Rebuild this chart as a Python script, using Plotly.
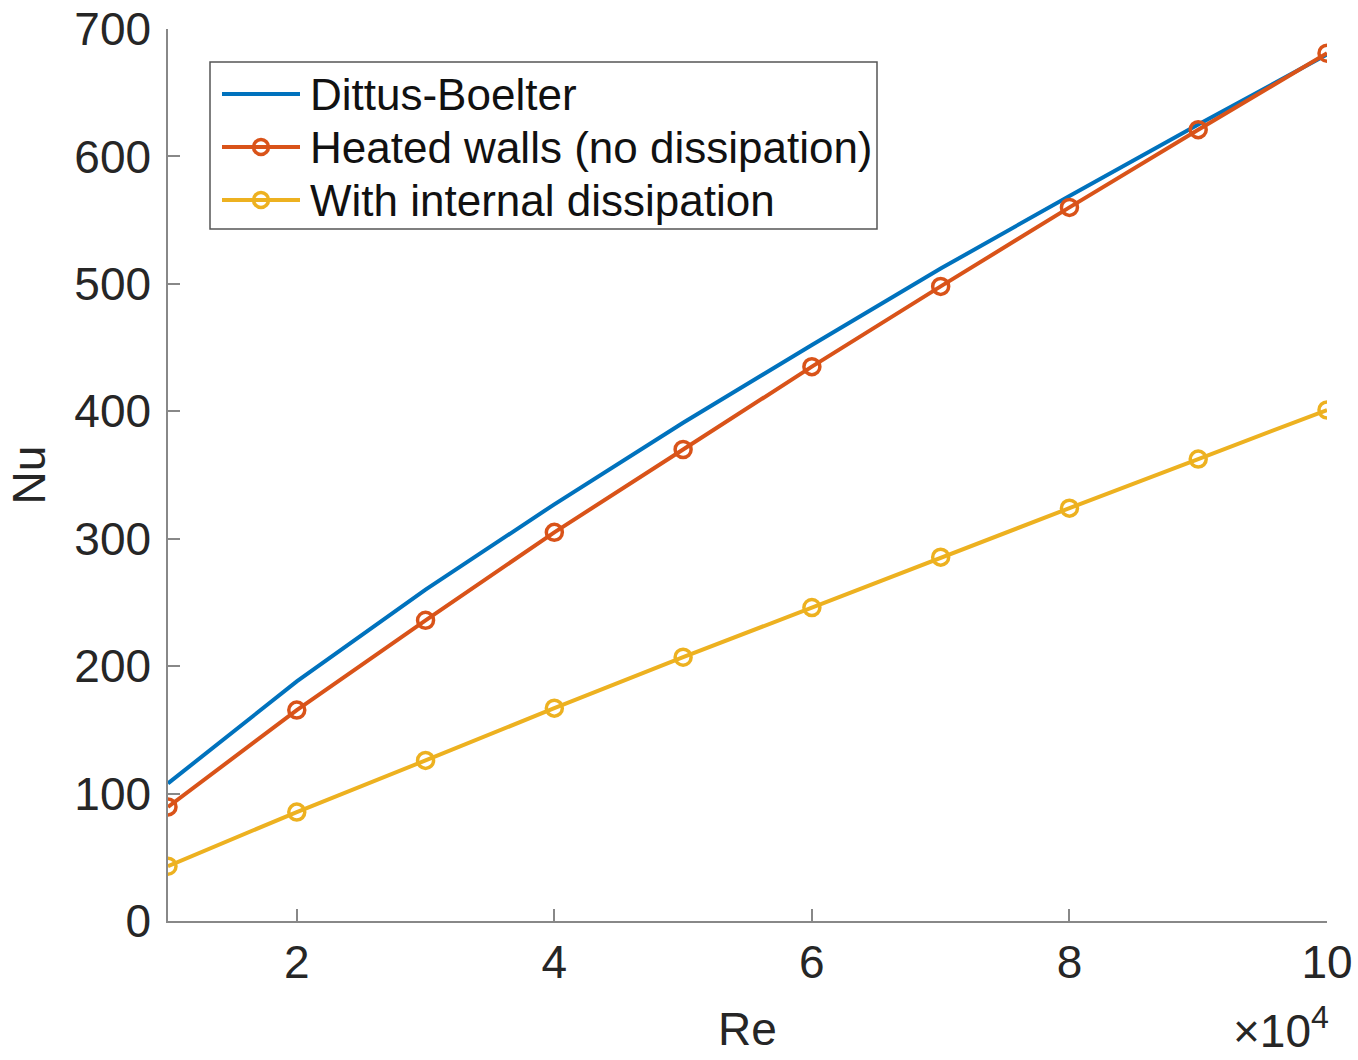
import plotly.graph_objects as go

re_vals = [10000, 20000, 30000, 40000, 50000, 60000, 70000, 80000, 90000, 100000]
nu_dittus = [108, 188, 260, 327, 391, 452, 512, 569, 625, 680]
nu_heated = [89.5, 165.5, 236, 305, 370, 435, 498, 560, 621, 681]
nu_dissip = [43, 85.5, 126, 167, 207, 246, 285.5, 324, 362.5, 401]

series_names = ["Dittus-Boelter", "Heated walls (no dissipation)", "With internal dissipation"]

x_ticks = [20000, 40000, 60000, 80000, 100000]
x_ticktext = ["2", "4", "6", "8", "10"]
y_ticks = [0, 100, 200, 300, 400, 500, 600, 700]

blue = "#0072BD"
orange = "#D95319"
yellow = "#EDB120"
colors = [blue, orange, yellow]
has_marker = [False, True, True]
font_family = "Liberation Sans, Arial, Helvetica, sans-serif"

W, H = 1358, 1060
ML, MR, MT, MB = 168, 31, 29, 139
PW, PH = W - ML - MR, H - MT - MB


def px(xp):
    return (xp - ML) / PW


def py(yp):
    return (H - MB - yp) / PH


fig = go.Figure()
fig.add_trace(go.Scatter(x=re_vals, y=nu_dittus, mode="lines", name=series_names[0],
                         line=dict(color=blue, width=4)))
fig.add_trace(go.Scatter(x=re_vals, y=nu_heated, mode="lines+markers",
                         name=series_names[1],
                         line=dict(color=orange, width=4),
                         marker=dict(symbol="circle-open", size=16, color=orange,
                                     line=dict(width=3.5, color=orange))))
fig.add_trace(go.Scatter(x=re_vals, y=nu_dissip, mode="lines+markers",
                         name=series_names[2],
                         line=dict(color=yellow, width=4),
                         marker=dict(symbol="circle-open", size=16, color=yellow,
                                     line=dict(width=3.5, color=yellow))))

fig.update_layout(
    width=W, height=H,
    margin=dict(l=ML, r=MR, t=MT, b=MB, autoexpand=False),
    plot_bgcolor="white", paper_bgcolor="white",
    font=dict(family=font_family, size=46, color="#262626"),
    showlegend=False,
    xaxis=dict(range=[10000, 100000], tickvals=x_ticks, ticktext=x_ticktext,
               automargin=False,
               showgrid=False, zeroline=False, showline=True, linecolor="#888888",
               linewidth=1.5, ticks="inside", ticklen=12, tickcolor="#888888",
               tickwidth=1.5, tickfont=dict(size=46, color="#262626"),
               title=dict(text="Re", font=dict(size=46, color="#262626"), standoff=26)),
    yaxis=dict(range=[0, 700], tickvals=y_ticks, showgrid=False, zeroline=False,
               automargin=False,
               showline=True, linecolor="#888888", linewidth=1.5, ticks="inside",
               ticklen=12, tickcolor="#888888", tickwidth=1.5,
               ticklabelstandoff=6,
               tickfont=dict(size=46, color="#262626"),
               title=dict(text="Nu", font=dict(size=46, color="#262626"), standoff=14)),
)

# Custom legend box (MATLAB style)
fig.add_shape(type="rect", xref="paper", yref="paper",
              x0=px(210), x1=px(877), y0=py(229), y1=py(62),
              fillcolor="white", line=dict(color="#555555", width=1.5), layer="above")
entry_y = [94, 147, 200]
for name, col, mk, ey in zip(series_names, colors, has_marker, entry_y):
    fig.add_shape(type="line", xref="paper", yref="paper",
                  x0=px(222), x1=px(300), y0=py(ey), y1=py(ey),
                  line=dict(color=col, width=4), layer="above")
    if mk:
        fig.add_shape(type="circle", xref="paper", yref="paper",
                      xsizemode="pixel", ysizemode="pixel",
                      xanchor=px(261), yanchor=py(ey),
                      x0=-7.5, x1=7.5, y0=-7.5, y1=7.5,
                      fillcolor="rgba(0,0,0,0)", line=dict(color=col, width=3.5),
                      layer="above")
    fig.add_annotation(x=px(308), y=py(ey), xref="paper", yref="paper",
                       xanchor="left", yanchor="middle", showarrow=False,
                       text=name, font=dict(size=44, color="#111111"))

fig.add_annotation(x=1.0, y=0, xref="paper", yref="paper", xanchor="right", yanchor="bottom",
                   yshift=-138, xshift=4, showarrow=False,
                   text="×10<sup>4</sup>", font=dict(size=46, color="#262626"))

fig.write_html("out.html")
